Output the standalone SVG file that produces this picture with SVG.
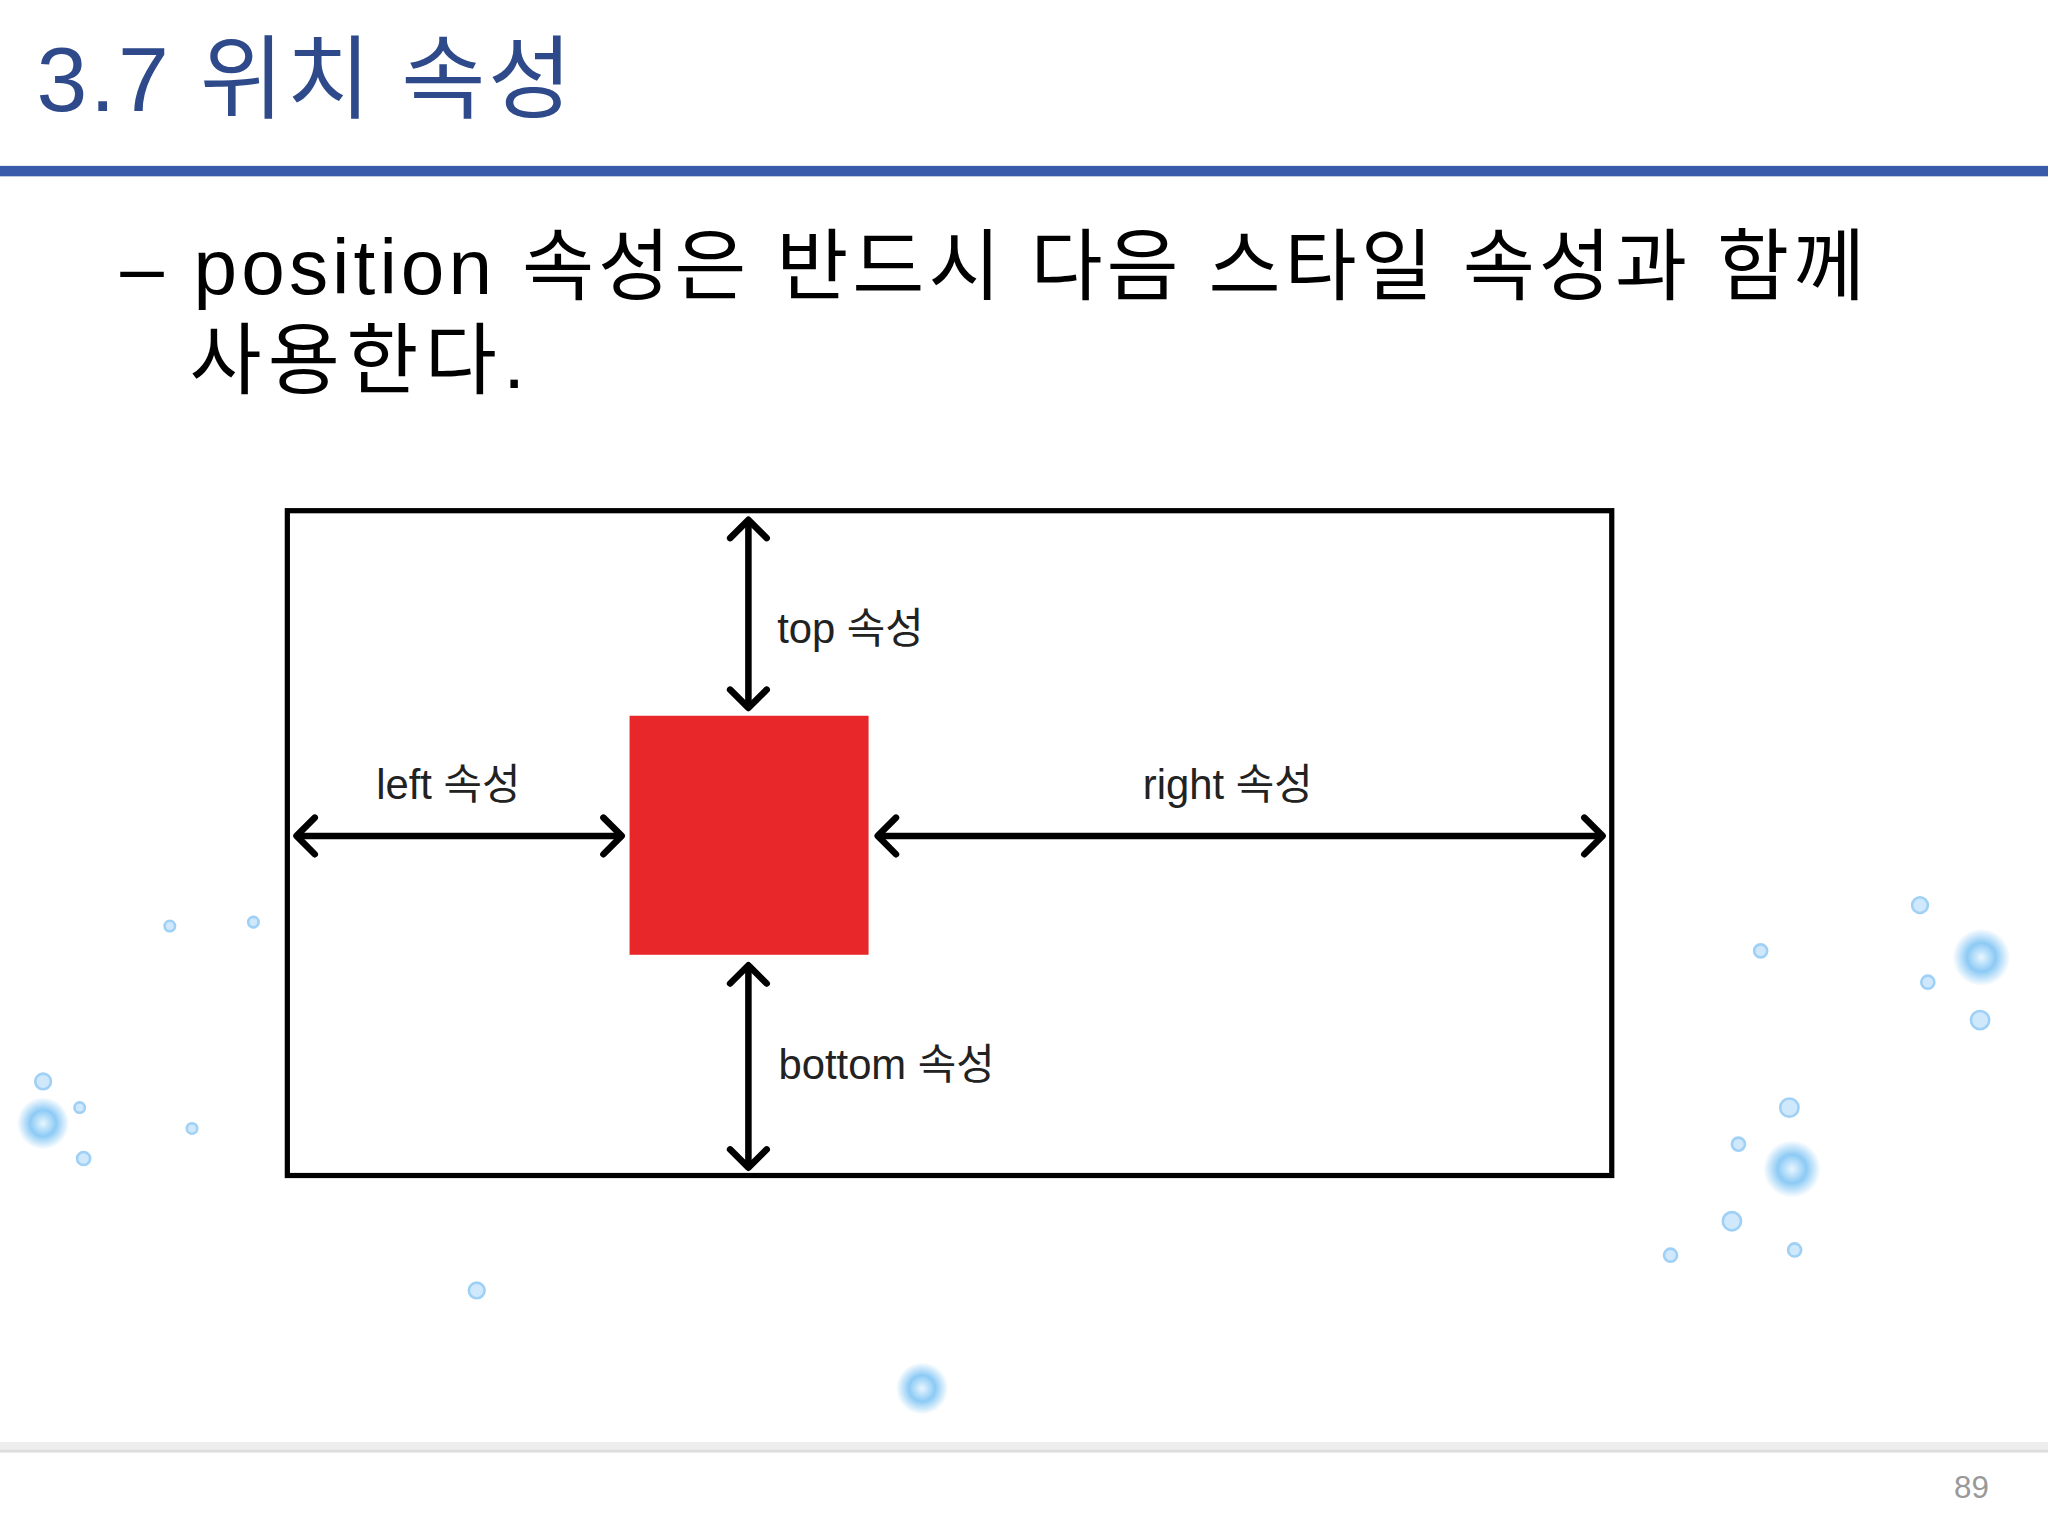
<svg xmlns="http://www.w3.org/2000/svg" width="2048" height="1536" viewBox="0 0 2048 1536">
<style>
.t{font-family:"Liberation Sans","Noto Sans CJK KR",sans-serif}
.lbl{font-family:"Liberation Sans","Noto Sans CJK KR",sans-serif;font-size:32px;fill:#222}
.ar{stroke:#000;stroke-width:5;fill:none;marker-start:url(#h);marker-end:url(#h)}
.dot{fill:#cfe8fb;stroke:#9fd0f5;stroke-width:2}
</style>
<defs>
<marker id="h" viewBox="-5 -10 30 40" refX="18" refY="10" markerWidth="30" markerHeight="40" orient="auto-start-reverse" markerUnits="userSpaceOnUse" overflow="visible">
<path d="M4,-4 L18,10 L4,24" fill="none" stroke="#000" stroke-width="5" stroke-linecap="round" stroke-linejoin="round"/>
</marker>
<radialGradient id="g"><stop offset="0" stop-color="#e8f6ff"/><stop offset="0.5" stop-color="#8ccaf5"/><stop offset="1" stop-color="#8ccaf5" stop-opacity="0"/></radialGradient>
</defs>
<rect width="2048" height="1536" fill="#fff"/>
<g transform="scale(1.30612)">
<g id="decor">
<circle cx="1517" cy="733" r="22" fill="url(#g)"/>
<circle cx="1372" cy="895" r="22" fill="url(#g)"/>
<circle cx="33" cy="860" r="20" fill="url(#g)"/>
<circle cx="706" cy="1063" r="20" fill="url(#g)"/>
<circle cx="1470" cy="693" r="6" class="dot"/><circle cx="1348" cy="728" r="5" class="dot"/>
<circle cx="1476" cy="752" r="5" class="dot"/><circle cx="1516" cy="781" r="7" class="dot"/>
<circle cx="1370" cy="848" r="7" class="dot"/><circle cx="1331" cy="876" r="5" class="dot"/>
<circle cx="1326" cy="935" r="7" class="dot"/><circle cx="1374" cy="957" r="5" class="dot"/>
<circle cx="1279" cy="961" r="5" class="dot"/><circle cx="33" cy="828" r="6" class="dot"/>
<circle cx="61" cy="848" r="4" class="dot"/><circle cx="64" cy="887" r="5" class="dot"/>
<circle cx="147" cy="864" r="4" class="dot"/><circle cx="130" cy="709" r="4" class="dot"/>
<circle cx="194" cy="706" r="4" class="dot"/><circle cx="365" cy="988" r="6" class="dot"/>
</g>
<g id="header">
<text class="t" x="28" y="85" font-size="70" fill="#2E4A8A" textLength="410" lengthAdjust="spacing">3.7 위치 속성</text>
<rect x="0" y="127" width="1568" height="8" fill="#3A5BA9"/>
<text class="t" x="92" y="225" font-size="60" fill="#000" textLength="1336" lengthAdjust="spacing">– position 속성은 반드시 다음 스타일 속성과 함께</text>
<text class="t" x="145" y="297" font-size="60" fill="#000" textLength="257" lengthAdjust="spacing">사용한다.</text>
</g>
<g id="container"><rect x="220" y="391" width="1014" height="509" fill="none" stroke="#000" stroke-width="4"/></g>
<g id="element"><rect x="482" y="548" width="183" height="183" fill="#E8272A"/></g>
<g id="connectors">
<line class="ar" x1="573" y1="398" x2="573" y2="542"/>
<line class="ar" x1="573" y1="739" x2="573" y2="894"/>
<line class="ar" x1="227" y1="640" x2="476" y2="640"/>
<line class="ar" x1="672" y1="640" x2="1227" y2="640"/>
</g>
<g id="labels">
<text class="lbl" x="595" y="492">top 속성</text>
<text class="lbl" x="288" y="612">left 속성</text>
<text class="lbl" x="875" y="612">right 속성</text>
<text class="lbl" x="596" y="826">bottom 속성</text>
</g>
<g id="footer">
<rect x="0" y="1104" width="1568" height="8" fill="#eee"/>
<line x1="0" y1="1111" x2="1568" y2="1111" stroke="#ddd" stroke-width="2"/>
<text class="t" x="1496" y="1147" font-size="24" fill="#999">89</text>
</g>
</g>
</svg>
